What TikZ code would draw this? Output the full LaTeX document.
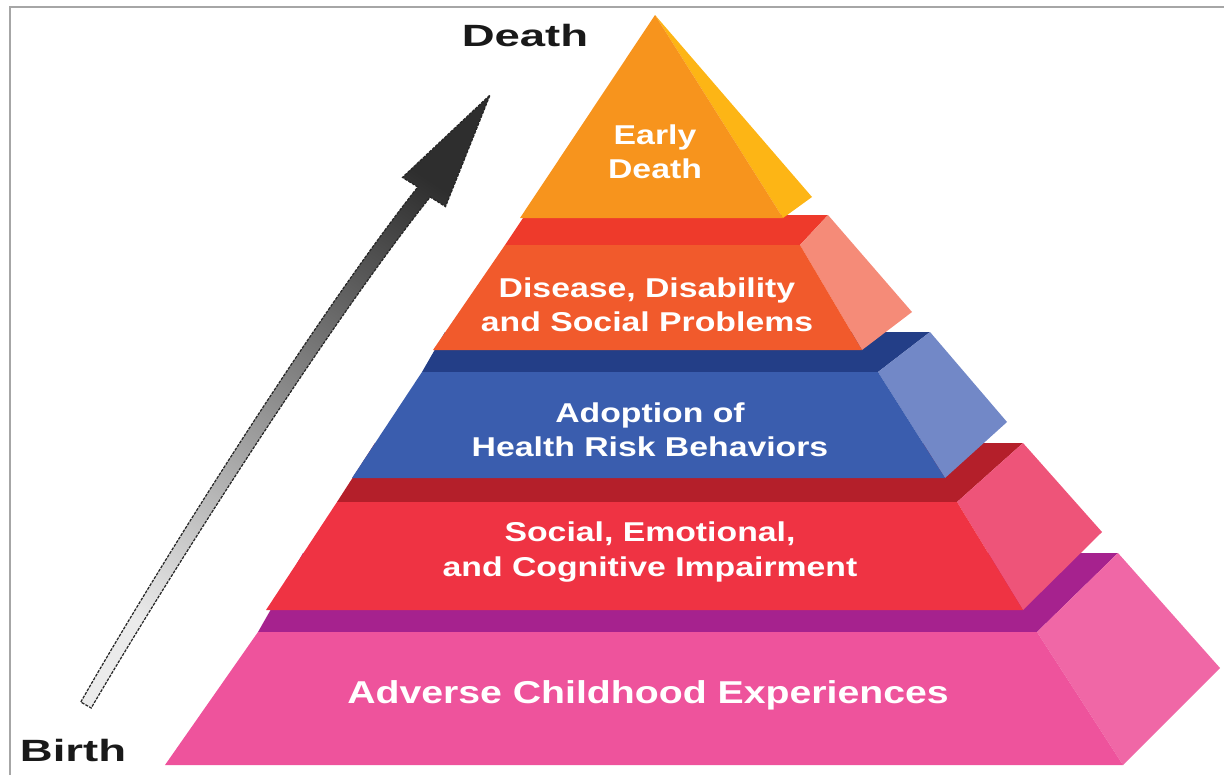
\documentclass[tikz,border=0pt]{standalone}
\usepackage{fontspec}
\usepackage{xcolor}
\usepackage{tikz}
\newfontfamily\layerfont{Liberation Sans}[FakeStretch=1.24]
\newfontfamily\endfont{Liberation Sans}[FakeStretch=1.48]
\definecolor{topfront}{HTML}{F7941D}
\definecolor{topside}{HTML}{FDB515}
\definecolor{disstrip}{HTML}{EE3A2B}
\definecolor{disfront}{HTML}{F15A2C}
\definecolor{disside}{HTML}{F58B78}
\definecolor{adostrip}{HTML}{233E87}
\definecolor{adofront}{HTML}{3A5DAE}
\definecolor{adoside}{HTML}{7288C7}
\definecolor{impstrip}{HTML}{B41F2A}
\definecolor{impfront}{HTML}{EF3343}
\definecolor{impside}{HTML}{EE5479}
\definecolor{acestrip}{HTML}{A6228E}
\definecolor{acefront}{HTML}{EE539C}
\definecolor{aceside}{HTML}{F067A6}
\tikzstyle{layertext} = [text=white, align=center,
font=\layerfont\bfseries\fontsize{15.5}{19.5}\selectfont]
\tikzstyle{bigtext} = [text=white, align=center,
font=\layerfont\bfseries\fontsize{18}{22}\selectfont]
\tikzstyle{endlabel} = [text=black!90, font=\endfont\bfseries\fontsize{17.5}{20}\selectfont]
\tikzstyle{frame} = [draw=black!35, line width=1.2pt]
\tikzstyle{timearrow} = [top color=black!82, bottom color=black!8, shading angle=-33.5,
draw=black!85, line width=0.7pt, dash pattern=on 1.7pt off 0.7pt]

\begin{document}
\begin{tikzpicture}[x=0.02cm, y=-0.02cm]
            \useasboundingbox (0,0) rectangle (1224,775);
            \draw [frame] (10,775) -- (10,7) -- (1224,7);

            % Adverse Childhood Experiences
            \fill [acestrip] (258,632) -- (303,553) -- (1118,553) -- (1037,632) -- cycle;
            \fill [aceside] (1037,632) -- (1118,553) -- (1220,668) -- (1123,765) -- cycle;
            \fill [acefront] (258,632) -- (1037,632) -- (1123,765) -- (165,765) -- cycle;
            % Social, Emotional, and Cognitive Impairment
            \fill [impstrip] (337,502) -- (375,443) -- (1023,443) -- (957,502) -- cycle;
            \fill [impside] (957,502) -- (1023,443) -- (1102,532) -- (1023,610) -- cycle;
            \fill [impfront] (337,502) -- (957,502) -- (1023,610) -- (266,610) -- cycle;
            % Adoption of Health Risk Behaviors
            \fill [adostrip] (422,372) -- (445,332) -- (930,332) -- (878,372) -- cycle;
            \fill [adoside] (878,372) -- (930,332) -- (1007,422) -- (945,478) -- cycle;
            \fill [adofront] (422,372) -- (878,372) -- (945,478) -- (352,478) -- cycle;
            % Disease, Disability and Social Problems
            \fill [disstrip] (505,245) -- (525,215) -- (828,215) -- (800,245) -- cycle;
            \fill [disside] (800,245) -- (828,215) -- (912,312) -- (862,350) -- cycle;
            \fill [disfront] (505,245) -- (800,245) -- (862,350) -- (433,350) -- cycle;
            % Early Death
            \fill [topside] (655,15) -- (812,197) -- (783,218) -- cycle;
            \fill [topfront] (655,15) -- (783,218) -- (520,218) -- cycle;

            \node (early) [layertext] at (655,152) {Early\\Death};
            \node (disease) [layertext] at (647,305) {Disease, Disability\\and Social Problems};
            \node (adoption) [layertext] at (650,430) {Adoption of\\Health Risk Behaviors};
            \node (impair) [layertext] at (650,552) {Social, Emotional,\\and Cognitive Impairment};
            \node (ace) [bigtext] at (648,695) {Adverse Childhood Experiences};

            \node (death) [endlabel] at (525,36) {Death};
            \node (birth) [endlabel] at (73,750) {Birth};

            % Birth to Death arrow
            \coordinate (foot-l) at (80.8,702);
            \coordinate (foot-r) at (91.2,708);
            \coordinate (neck-l) at (417.8,187);
            \coordinate (neck-r) at (430.2,197);
            \coordinate (barb-l) at (402.5,177.4);
            \coordinate (barb-r) at (445.5,206.6);
            \coordinate (tip) at (490,95);
            \shade [timearrow] (foot-l) .. controls (164,556.4) and (324,305.5) .. (neck-l)
                -- (barb-l) -- (tip) -- (barb-r) -- (neck-r)
                .. controls (336,314.5) and (176,563.6) .. (foot-r) -- cycle;
        \end{tikzpicture}
\end{document}
